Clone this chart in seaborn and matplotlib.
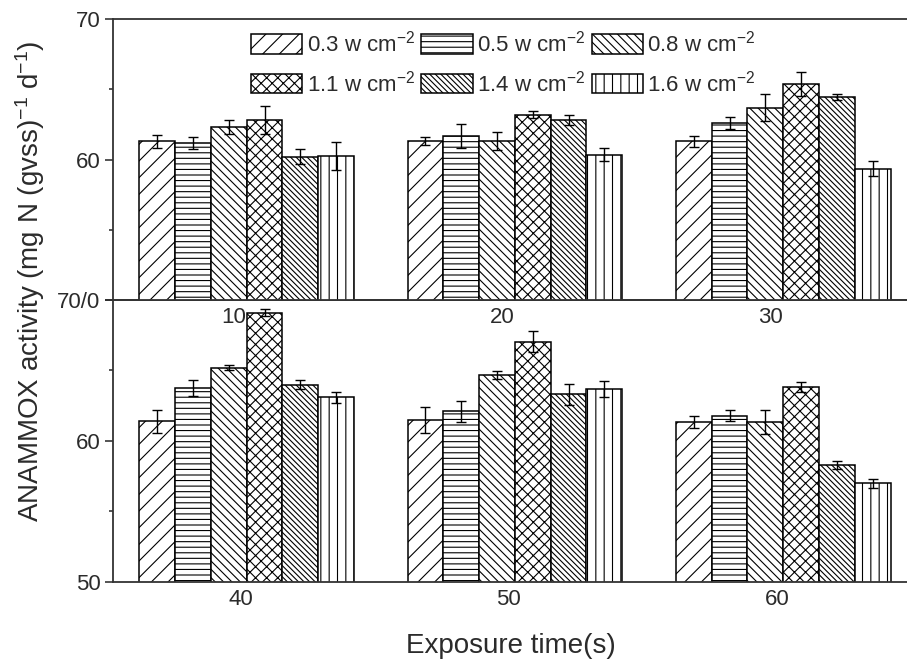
"""
ANAMMOX activity vs exposure time for different ultrasound intensities.
Two stacked panels (10-30 s on top, 40-60 s below), hatched bars with error bars.
"""

import numpy as np
import pandas as pd
import matplotlib
matplotlib.use('Agg')
import matplotlib.pyplot as plt
import matplotlib.patches as mpatches
from matplotlib.ticker import MultipleLocator
from matplotlib.transforms import ScaledTranslation
import seaborn as sns

# exposure times (s) for each panel
times_top = ['10', '20', '30']
times_bottom = ['40', '50', '60']
times = times_top + times_bottom

# ultrasound intensities (w cm-2)
intensities = ['0.3', '0.5', '0.8', '1.1', '1.4', '1.6']

# mean activity, ordered by exposure time 10..60 s
act_03 = [61.3, 61.3, 61.3, 61.4, 61.5, 61.35]
act_05 = [61.15, 61.7, 62.6, 63.75, 62.1, 61.8]
act_08 = [62.3, 61.3, 63.7, 65.2, 64.7, 61.35]
act_11 = [62.8, 63.2, 65.35, 69.1, 67.05, 63.8]
act_14 = [60.2, 62.8, 64.45, 64.0, 63.3, 58.3]
act_16 = [60.25, 60.35, 59.35, 63.1, 63.7, 57.0]

# standard deviations, same order
sd_03 = [0.45, 0.3, 0.4, 0.83, 0.93, 0.41]
sd_05 = [0.43, 0.85, 0.42, 0.59, 0.74, 0.37]
sd_08 = [0.5, 0.63, 0.93, 0.19, 0.28, 0.88]
sd_11 = [0.98, 0.28, 0.85, 0.25, 0.72, 0.35]
sd_14 = [0.53, 0.36, 0.19, 0.33, 0.73, 0.3]
sd_16 = [0.98, 0.46, 0.52, 0.37, 0.57, 0.33]

activity = [act_03, act_05, act_08, act_11, act_14, act_16]
errors = [sd_03, sd_05, sd_08, sd_11, sd_14, sd_16]
hatches = ['//', '---', '\\\\\\\\', 'xxx', '\\\\\\\\\\\\', '||']

sns.set_style('ticks')
plt.rcParams['font.family'] = ['Liberation Sans', 'DejaVu Sans']
plt.rcParams['mathtext.default'] = 'regular'
plt.rcParams['hatch.linewidth'] = 0.8
plt.rcParams['hatch.color'] = 'black'

TEXT = '#2b2b2b'

rows = []
for inten, vals in zip(intensities, activity):
    for t, v in zip(times, vals):
        rows.append({'time': t, 'intensity': inten, 'activity': v})
df = pd.DataFrame(rows)

fig = plt.figure(figsize=(9.07, 6.61), dpi=100)
W, H = 907, 661
left = 113 / W
width = (912 - 113) / W
ax_top = fig.add_axes([left, 1 - 300 / H, width, 281 / H])
ax_bot = fig.add_axes([left, 1 - 582 / H, width, 282 / H])

palette = {k: 'white' for k in intensities}


def draw_panel(ax, panel_times, shift_px):
    sub = df[df['time'].isin(panel_times)]
    sns.barplot(data=sub, x='time', y='activity', hue='intensity',
                order=panel_times, hue_order=intensities,
                palette=palette, saturation=1, edgecolor='black',
                linewidth=1.1, errorbar=None, legend=False, ax=ax)
    idx = [times.index(t) for t in panel_times]
    bars = list(ax.containers)
    for i, cont in enumerate(bars):
        xc = [b.get_x() + b.get_width() / 2 for b in cont]
        hs = [b.get_height() for b in cont]
        for b in cont:
            b.set_hatch(hatches[i])
        ax.errorbar(xc, hs, yerr=[errors[i][j] for j in idx], fmt='none',
                    ecolor='black', elinewidth=1.0, capsize=3.5, capthick=1.0)

    ax.set_ylim(50, 70)
    ax.set_xlim(-0.498, 2.48)
    ax.yaxis.set_minor_locator(MultipleLocator(5))
    ax.tick_params(axis='y', which='major', direction='out', length=6,
                   width=1.1, labelsize=16, labelcolor=TEXT, pad=3)
    ax.tick_params(axis='y', which='minor', direction='out', length=3, width=1.1)
    ax.tick_params(axis='x', length=0, labelsize=16, labelcolor=TEXT, pad=5)
    ax.set_xlabel('')
    ax.set_ylabel('')
    for s in ax.spines.values():
        s.set_visible(True)
        s.set_linewidth(1.3)
        s.set_color('#333333')
    for lbl in ax.get_xticklabels():
        lbl.set_transform(lbl.get_transform() +
                          ScaledTranslation(shift_px / 100, 0, fig.dpi_scale_trans))


draw_panel(ax_top, times_top, -13)
draw_panel(ax_bot, times_bottom, -6)

ax_top.set_yticks([50, 60, 70], ['', '60', '70'])
ax_bot.set_yticks([50, 60, 70], ['50', '60', '70/0'])
ax_top.set_zorder(2)
ax_top.patch.set_alpha(0)

# legend: two rows of three
order = [0, 3, 1, 4, 2, 5]
handles = [mpatches.Patch(facecolor='white', edgecolor='black', linewidth=1.1,
                          hatch=hatches[i]) for i in order]
labels = [f'{intensities[i]} w cm$^{{-2}}$' for i in order]
fig.legend(handles, labels, ncol=3, loc='upper left',
           bbox_to_anchor=(251 / W, 1 - 31 / H), frameon=False,
           fontsize=16, handlelength=2.3, handleheight=1.0,
           handletextpad=0.2, columnspacing=0.3, labelspacing=0.6,
           borderpad=0, borderaxespad=0, labelcolor=TEXT)

fig.text(30 / W, 1 - 281 / H,
         'ANAMMOX activity (mg N (gvss)$^{-1}$ d$^{-1}$)',
         rotation=90, ha='center', va='center', fontsize=20, color=TEXT)
fig.text(511 / W, 1 - 646 / H, 'Exposure time(s)',
         ha='center', va='center', fontsize=20, color=TEXT)

fig.savefig('out.png', dpi=100)
